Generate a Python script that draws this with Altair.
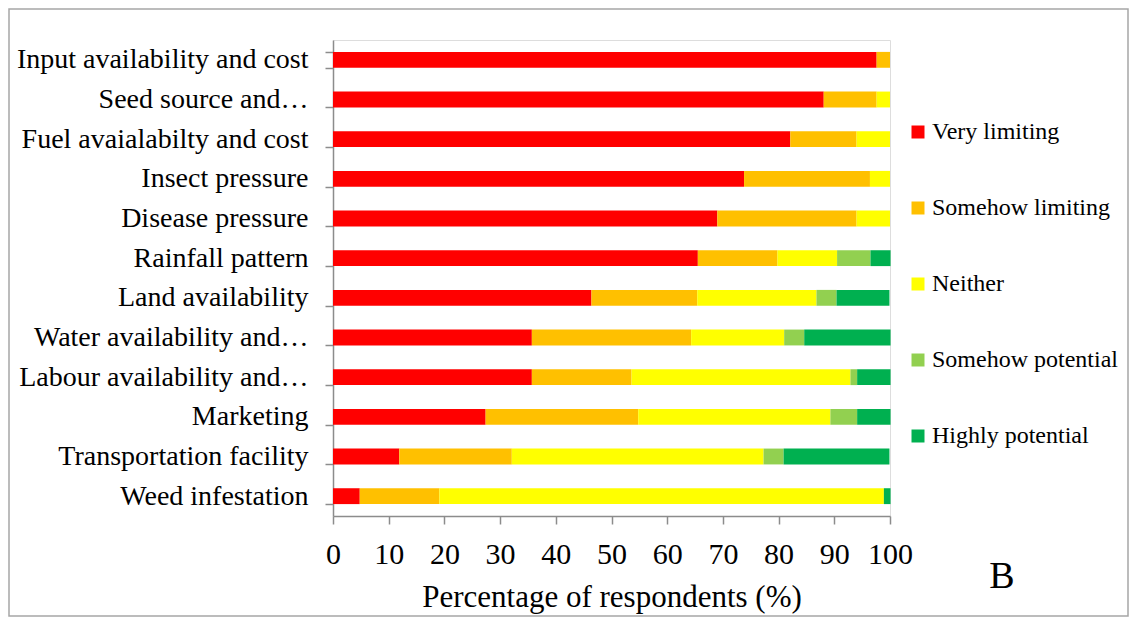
import altair as alt
import pandas as pd

constraints = [
    "Input availability and cost",
    "Seed source and\u2026",
    "Fuel avaialabilty and cost",
    "Insect pressure",
    "Disease pressure\u00a0",
    "Rainfall pattern",
    "Land availability\u00a0",
    "Water availability and\u2026",
    "Labour availability and\u2026",
    "Marketing",
    "Transportation facility",
    "Weed infestation",
]
levels = ["Very limiting", "Somehow limiting", "Neither", "Somehow potential", "Highly potential"]
colors = ["#FF0000", "#FFC000", "#FFFF00", "#92D050", "#00B050"]

very_limiting     = [97.6, 88.1, 82.1, 73.8, 69.0, 65.5, 46.4, 35.7, 35.7, 27.4, 11.9, 4.8]
somehow_limiting  = [2.4, 9.5, 11.9, 22.6, 25.0, 14.3, 19.0, 28.6, 17.9, 27.4, 20.2, 14.3]
neither           = [0.0, 2.4, 6.0, 3.6, 6.0, 10.7, 21.4, 16.7, 39.3, 34.5, 45.2, 79.8]
somehow_potential = [0.0, 0.0, 0.0, 0.0, 0.0, 6.0, 3.6, 3.6, 1.2, 4.8, 3.6, 0.0]
highly_potential  = [0.0, 0.0, 0.0, 0.0, 0.0, 3.6, 9.5, 15.5, 6.0, 6.0, 19.0, 1.2]
series = [very_limiting, somehow_limiting, neither, somehow_potential, highly_potential]

x_ticks = list(range(0, 101, 10))

rows = []
for i, c in enumerate(constraints):
    for j, (lvl, vals) in enumerate(zip(levels, series)):
        rows.append({"constraint": c, "level": lvl, "k": j, "pct": vals[i]})
df = pd.DataFrame(rows)

FONT = "Liberation Serif"
AX = "#8c8c8c"

bars = alt.Chart(df).mark_bar().encode(
    y=alt.Y("constraint:N", sort=constraints, title=None,
            scale=alt.Scale(paddingInner=0.6, paddingOuter=0.3),
            axis=alt.Axis(tickBand="extent", tickSize=8, labelPadding=17,
                          labelFontSize=28, labelFont=FONT, labelColor="black",
                          domainColor=AX, tickColor=AX, labelLimit=400,
                          domainWidth=1.5, tickWidth=1.5)),
    x=alt.X("pct:Q", stack="zero", title="Percentage of respondents (%)",
            scale=alt.Scale(domain=[0, 100], nice=False),
            axis=alt.Axis(values=x_ticks, grid=False, tickSize=8, labelPadding=15,
                          labelFlush=False, labelOverlap=False,
                          labelFontSize=30, labelFont=FONT, labelColor="black",
                          titleFontSize=31, titleFont=FONT, titleFontWeight="normal",
                          titleColor="black", titlePadding=13,
                          domainColor=AX, tickColor=AX, domainWidth=1.5, tickWidth=1.5)),
    color=alt.Color("level:N", scale=alt.Scale(domain=levels, range=colors),
                    legend=alt.Legend(title=None, orient="none", legendX=573, legendY=80,
                                      symbolType="square", symbolSize=169,
                                      symbolStrokeWidth=0, rowPadding=52,
                                      labelFontSize=24, labelFont=FONT, labelColor="black",
                                      labelOffset=2, labelLimit=300)),
    order=alt.Order("k:Q"),
)

label_b = alt.Chart(pd.DataFrame({"t": ["B"]})).mark_text(
    font=FONT, fontSize=38, color="black", align="center", baseline="middle"
).encode(x=alt.value(669), y=alt.value(537), text="t:N")

frame = alt.Chart(pd.DataFrame({"a": [0]})).mark_rect(
    fillOpacity=0, stroke="#a6a6a6", strokeWidth=1.5
).encode(x=alt.value(-324), x2=alt.value(795), y=alt.value(-31), y2=alt.value(576))

chart = alt.layer(frame, bars, label_b).properties(
    width=557, height=476,
    autosize=alt.AutoSizeParams(type="none"),
    padding={"left": 325, "top": 32, "right": 239, "bottom": 101},
).configure_view(stroke=None).configure(font=FONT, background="white")

chart.save("out.html", embed_options={"renderer": "svg", "actions": False})
